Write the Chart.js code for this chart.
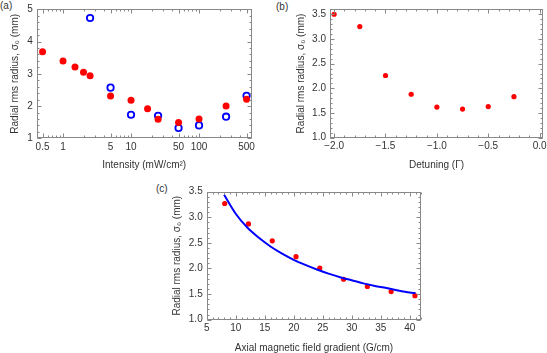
<!DOCTYPE html>
<html>
<head>
<meta charset="utf-8">
<script src="https://cdn.jsdelivr.net/npm/chart.js@4.4.1/dist/chart.umd.min.js"></script>
<style>
    html, body { margin: 0; padding: 0; width: 547px; height: 353px; overflow: hidden; background: #fff; }
    .panel { position: absolute; }
    .etiqueta { position: absolute; font: 10px 'Liberation Sans', Arial, sans-serif; color: #333; }
</style>
</head>
<body>
<div class="etiqueta" style="left:0px;top:0px">(a)</div>
<div class="etiqueta" style="left:276px;top:1px">(b)</div>
<div class="etiqueta" style="left:156px;top:183px">(c)</div>

<div class="panel" style="left:0px;top:0px;width:270px;height:176px"><canvas id="graficoA"></canvas></div>
<div class="panel" style="left:285px;top:0px;width:262px;height:176px"><canvas id="graficoB"></canvas></div>
<div class="panel" style="left:160px;top:180px;width:280px;height:180px"><canvas id="graficoC"></canvas></div>

<script>
// (a) radio frente a intensidad
const intensidadRojo = [0.5, 1, 1.5, 2, 2.5, 5, 10, 17.5, 25, 50, 100, 250, 500];
const radioRojo = [3.68, 3.40, 3.21, 3.05, 2.94, 2.31, 2.18, 1.92, 1.59, 1.49, 1.60, 2.00, 2.21];
const intensidadAzul = [2.5, 5, 10, 25, 50, 100, 250, 500];
const radioAzul = [4.73, 2.57, 1.73, 1.70, 1.32, 1.40, 1.67, 2.32];
const ticksIntensidad = [0.5, 1, 5, 10, 50, 100, 500];
const etiquetasIntensidad = ['0.5', '1', '5', '10', '50', '100', '500'];
const ticksRadioA = [1, 2, 3, 4, 5];
const etiquetasRadioA = ['1', '2', '3', '4', '5'];

// (b) radio frente a desintonia
const desintonia = [-2.0, -1.75, -1.5, -1.25, -1.0, -0.75, -0.5, -0.25];
const radioB = [3.50, 3.25, 2.26, 1.88, 1.62, 1.58, 1.63, 1.83];
const ticksDesintonia = [-2.0, -1.5, -1.0, -0.5, 0.0];
const etiquetasDesintonia = ['\u22122.0', '\u22121.5', '\u22121.0', '\u22120.5', '0.0'];
const ticksRadioB = [1.0, 1.5, 2.0, 2.5, 3.0, 3.5];
const etiquetasRadio = ['1.0', '1.5', '2.0', '2.5', '3.0', '3.5'];

// (c) radio frente a gradiente de campo
const gradiente = [8.1, 12.2, 16.3, 20.4, 24.5, 28.6, 32.7, 36.8, 40.9];
const radioC = [3.27, 2.87, 2.54, 2.23, 2.01, 1.79, 1.65, 1.55, 1.47];
const ajusteX = [8, 10, 12, 14, 16, 18, 20, 22, 24, 26, 28, 30, 32, 34, 36, 38, 40, 41];
const ajusteY = [3.44, 3.07, 2.80, 2.60, 2.43, 2.29, 2.17, 2.07, 1.98, 1.90, 1.83, 1.77, 1.71, 1.66, 1.62, 1.57, 1.53, 1.52];
const ticksGradiente = [5, 10, 15, 20, 25, 30, 35, 40];
const etiquetasGradiente = ['5', '10', '15', '20', '25', '30', '35', '40'];
const ticksRadioC = [1.0, 1.5, 2.0, 2.5, 3.0, 3.5];

const fuente = { family: "'Liberation Sans', Arial, sans-serif", size: 10 };
const colorTexto = '#333';

function rango(desde, hasta, paso) {
    const out = [];
    for (let v = desde; v <= hasta + 1e-9; v += paso) out.push(Math.round(v * 1000) / 1000);
    return out;
}

function menoresLog() {
    const out = [];
    [0.1, 1, 10, 100].forEach(d => [2, 3, 4, 6, 7, 8, 9].forEach(m => out.push(m * d)));
    return out;
}

// marco tipo Mathematica con marcas hacia dentro en los cuatro lados
const marcoPlugin = {
    id: 'marco',
    afterDraw(chart, args, opts) {
        const { ctx, chartArea: a, scales: { x, y } } = chart;
        const l = Math.round(a.left) + 0.5, r = Math.round(a.right) - 0.5;
        const t = Math.round(a.top) + 0.5, b = Math.round(a.bottom) - 0.5;
        ctx.save();
        ctx.strokeStyle = '#888';
        ctx.lineWidth = 1;
        ctx.beginPath();
        const marcaX = (v, len) => {
            if (v < x.min || v > x.max) return;
            const px = Math.round(x.getPixelForValue(v)) + 0.5;
            ctx.moveTo(px, b); ctx.lineTo(px, b - len);
            ctx.moveTo(px, t); ctx.lineTo(px, t + len);
        };
        const marcaY = (v, len) => {
            if (v < y.min || v > y.max) return;
            const py = Math.round(y.getPixelForValue(v)) + 0.5;
            ctx.moveTo(l, py); ctx.lineTo(l + len, py);
            ctx.moveTo(r, py); ctx.lineTo(r - len, py);
        };
        opts.xMayor.forEach(v => marcaX(v, 4));
        opts.xMenor.forEach(v => marcaX(v, 2));
        opts.yMayor.forEach(v => marcaY(v, 4));
        opts.yMenor.forEach(v => marcaY(v, 2));
        ctx.stroke();
        ctx.strokeRect(l, t, r - l, b - t);
        ctx.restore();
    }
};

function eje(cfg) {
    const horizontal = cfg.pos === 'bottom';
    return {
        type: cfg.tipo || 'linear',
        position: cfg.pos,
        min: cfg.min,
        max: cfg.max,
        bounds: 'data',
        grid: { display: false, drawTicks: false },
        border: { display: false },
        ticks: {
            padding: horizontal ? 3 : 4,
            color: colorTexto,
            font: fuente,
            autoSkip: false,
            maxRotation: 0,
            callback: (v, i) => cfg.etiquetas[i]
        },
        afterBuildTicks: s => { s.ticks = cfg.ticks.map(v => ({ value: v })); },
        afterFit: s => {
            if (horizontal) s.height = cfg.tam; else s.width = cfg.tam;
            s.paddingLeft = 0; s.paddingRight = 0; s.paddingTop = 0; s.paddingBottom = 0;
        },
        title: {
            display: true,
            text: cfg.titulo,
            color: colorTexto,
            font: fuente,
            padding: horizontal ? { top: 0, bottom: cfg.tituloPad } : { top: cfg.tituloPad, bottom: 0 }
        }
    };
}

function crearGrafico(id, datasets, ejeX, ejeY, padding, marco) {
    return new Chart(document.getElementById(id), {
        type: 'scatter',
        data: { datasets },
        options: {
            responsive: true,
            maintainAspectRatio: false,
            animation: false,
            devicePixelRatio: 1,
            layout: { padding },
            plugins: { legend: { display: false }, tooltip: { enabled: false }, marco },
            scales: { x: eje(ejeX), y: eje(ejeY) }
        },
        plugins: [marcoPlugin]
    });
}

const puntosRojos = (xs, ys, radio) => ({
    data: xs.map((v, i) => ({ x: v, y: ys[i] })),
    pointRadius: radio,
    pointBackgroundColor: '#ff0000',
    pointBorderWidth: 0,
    pointBorderColor: '#ff0000'
});

// (a)
crearGrafico('graficoA', [
    puntosRojos(intensidadRojo, radioRojo, 3.5),
    {
        data: intensidadAzul.map((v, i) => ({ x: v, y: radioAzul[i] })),
        pointRadius: 3.2,
        pointBackgroundColor: 'rgba(0,0,0,0)',
        pointBorderColor: '#0000ff',
        pointBorderWidth: 1.8
    }
], {
    pos: 'bottom', tipo: 'logarithmic', min: 0.41, max: 595, ticks: ticksIntensidad,
    etiquetas: etiquetasIntensidad, tam: 37.7, titulo: 'Intensity (mW/cm\u00b2)', tituloPad: 4.3
}, {
    pos: 'left', min: 1, max: 5, ticks: ticksRadioA, etiquetas: etiquetasRadioA,
    tam: 36.7, titulo: 'Radial rms radius, \u03c3\u2080 (mm)', tituloPad: 9.5
}, { top: 9.3, right: 18.3, bottom: 0, left: 0 }, {
    xMayor: ticksIntensidad, xMenor: menoresLog(), yMayor: ticksRadioA, yMenor: rango(1, 5, 0.2)
});

// (b)
crearGrafico('graficoB', [
    puntosRojos(desintonia, radioB, 2.6)
], {
    pos: 'bottom', min: -2.04, max: 0.033, ticks: ticksDesintonia,
    etiquetas: etiquetasDesintonia, tam: 38.3, titulo: 'Detuning (\u0393)', tituloPad: 4.3
}, {
    pos: 'left', min: 1.0, max: 3.6, ticks: ticksRadioB, etiquetas: etiquetasRadio,
    tam: 45, titulo: 'Radial rms radius, \u03c3\u2080 (mm)', tituloPad: 10.5
}, { top: 9.3, right: 2.7, bottom: 0, left: 0 }, {
    xMayor: ticksDesintonia, xMenor: rango(-2.0, 0, 0.1), yMayor: ticksRadioB, yMenor: rango(1.0, 3.6, 0.1)
});

// (c)
crearGrafico('graficoC', [
    {
        data: ajusteX.map((v, i) => ({ x: v, y: ajusteY[i] })),
        showLine: true,
        borderColor: '#0000ff',
        borderWidth: 2,
        pointRadius: 0,
        tension: 0.4,
        cubicInterpolationMode: 'monotone'
    },
    puntosRojos(gradiente, radioC, 2.6)
], {
    pos: 'bottom', min: 5, max: 42, ticks: ticksGradiente, etiquetas: etiquetasGradiente,
    tam: 40.3, titulo: 'Axial magnetic field gradient (G/cm)', tituloPad: 5.7
}, {
    pos: 'left', min: 1.0, max: 3.5, ticks: ticksRadioC, etiquetas: etiquetasRadio,
    tam: 46.7, titulo: 'Radial rms radius, \u03c3\u2080 (mm)', tituloPad: 11.7
}, { top: 11.7, right: 18.7, bottom: 0, left: 0 }, {
    xMayor: ticksGradiente, xMenor: rango(5, 42, 1), yMayor: ticksRadioC, yMenor: rango(1.0, 3.5, 0.1)
});
</script>
</body>
</html>
